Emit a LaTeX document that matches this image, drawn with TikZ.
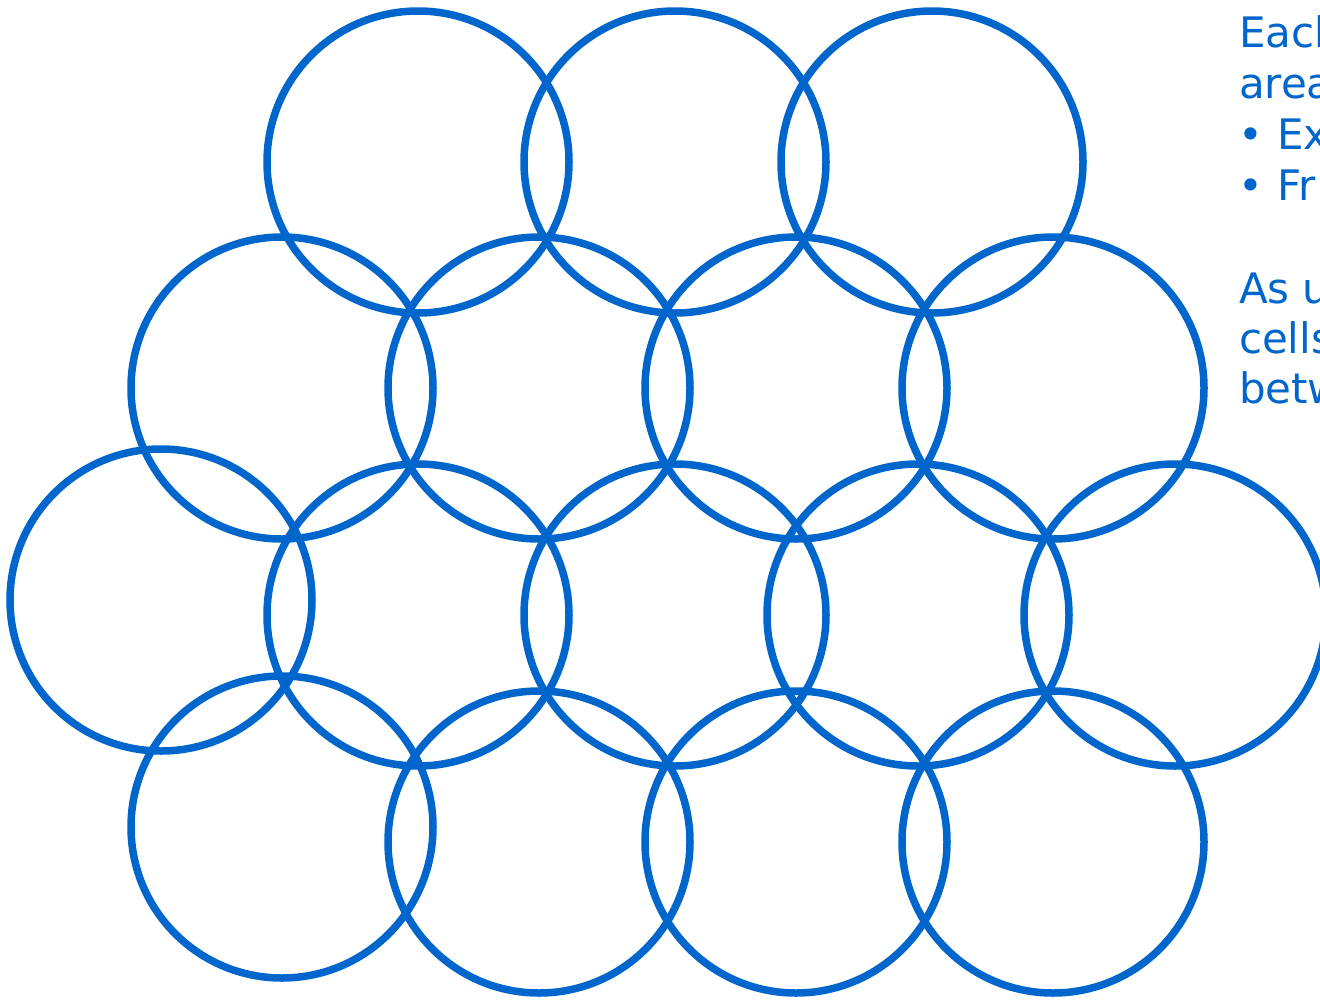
\documentclass[tikz,border=0pt]{standalone}
\usepackage{fontspec}
\setmainfont{DejaVu Sans}
\definecolor{cellblue}{RGB}{0,102,204}
\begin{document}
\begin{tikzpicture}[x=1pt,y=-1pt,
  cell/.style={draw=cellblue,line width=7.5pt},
  txt/.style={anchor=base west,inner sep=0pt,outer sep=0pt,text=cellblue,font=\fontsize{42}{50}\selectfont}]
\useasboundingbox (0,0) rectangle (1320,999);
\clip (0,0) rectangle (1320,999);
% row 1
\draw[cell] (418,162) circle[radius=151];
\draw[cell] (675,162) circle[radius=151];
\draw[cell] (932,162) circle[radius=151];
% row 2
\draw[cell] (282,388) circle[radius=151];
\draw[cell] (539,388) circle[radius=151];
\draw[cell] (796,388) circle[radius=151];
\draw[cell] (1053,388) circle[radius=151];
% row 3
\draw[cell] (161,600) circle[radius=151];
\draw[cell] (418,615) circle[radius=151];
\draw[cell] (675,615) circle[radius=151];
\draw[cell] (918,615) circle[radius=151];
\draw[cell] (1175,615) circle[radius=151];
% row 4
\draw[cell] (282,827) circle[radius=151];
\draw[cell] (539,842) circle[radius=151];
\draw[cell] (796,842) circle[radius=151];
\draw[cell] (1053,842) circle[radius=151];
% text
\node[txt] (t1) at (1239,47) {Each};
\node[txt] (t2) at (1239,98) {area};
\node[txt] (b1) at (1238,149) {•};
\node[txt] (t3) at (1277,149) {Ex};
\node[txt] (b2) at (1238,200) {•};
\node[txt] (t4) at (1277,200) {Fr};
\node[txt] (t5) at (1239,303) {As u};
\node[txt] (t6) at (1239,353) {cells};
\node[txt] (t7) at (1239,403) {betw};
\end{tikzpicture}
\end{document}
